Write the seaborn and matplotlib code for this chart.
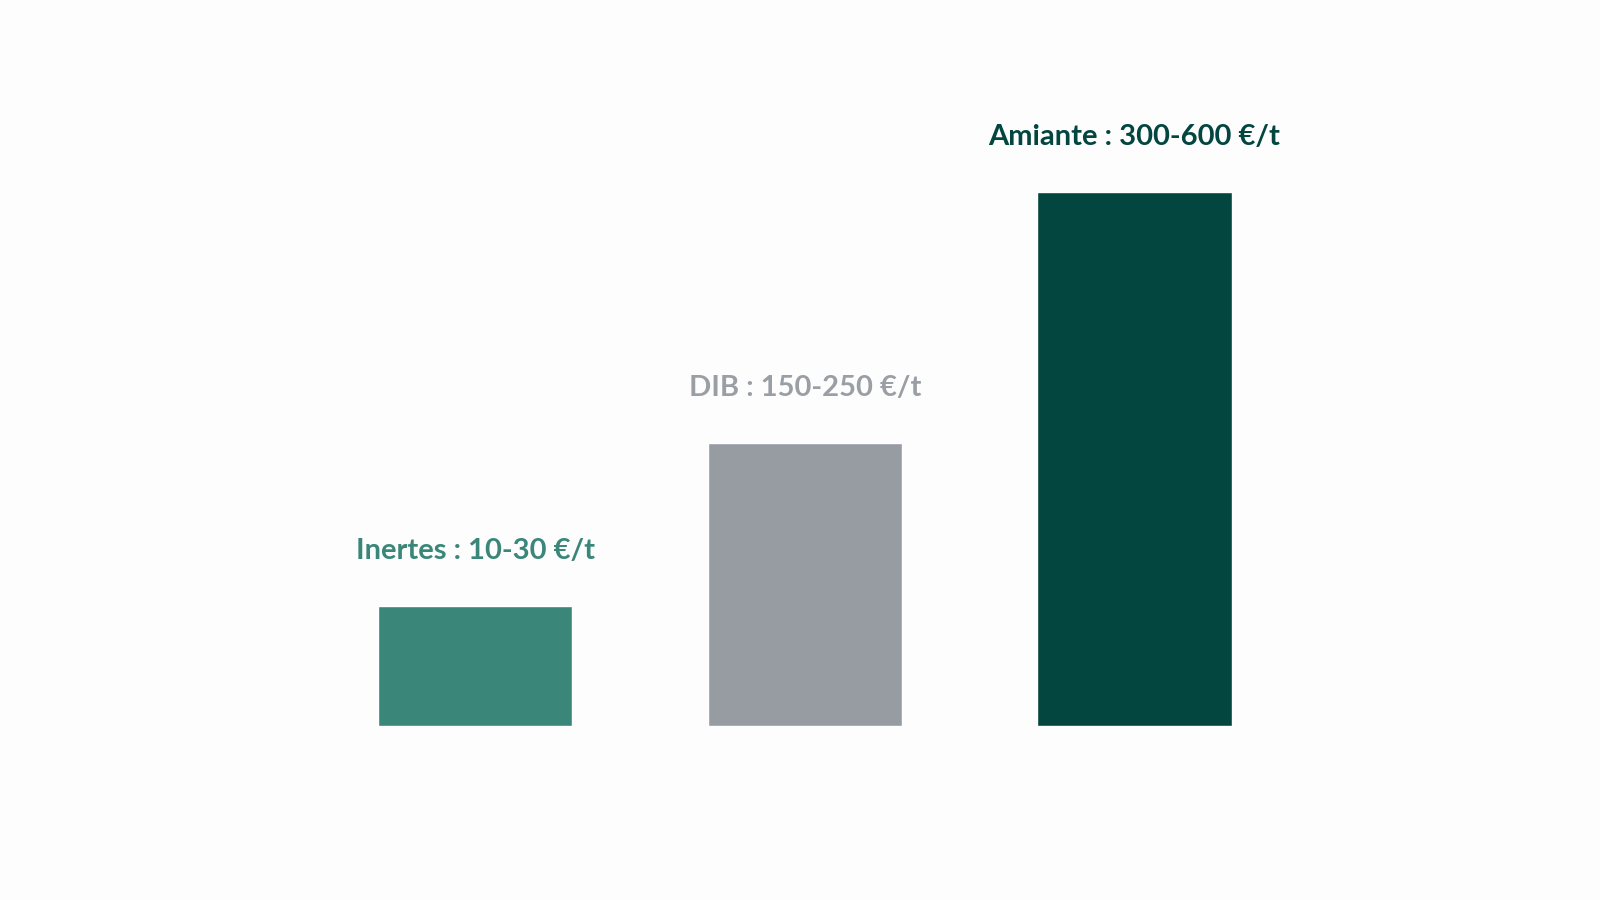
import matplotlib
matplotlib.use('Agg')
import matplotlib.pyplot as plt
import seaborn as sns
import pandas as pd

# Données (hauteurs relatives des barres)
categories = ['Inertes', 'DIB', 'Amiante']
hauteurs = [22.5, 53, 100]
etiquettes = ['Inertes : 10-30 €/t', 'DIB : 150-250 €/t', 'Amiante : 300-600 €/t']
couleurs = ['#3a877a', '#979ca3', '#02463f']
couleurs_texte = ['#3a877a', '#9a9fa6', '#02463f']

sns.set_style('white')
plt.rcParams['font.family'] = ['Lato', 'DejaVu Sans']

df = pd.DataFrame({'categorie': categories, 'hauteur': hauteurs})

fig = plt.figure(figsize=(16, 9), dpi=100)
fig.patch.set_facecolor('#fdfdfd')
ax = fig.add_axes([0.194, 0.193, 0.618, 0.653])
ax.set_facecolor('#fdfdfd')

sns.barplot(data=df, x='categorie', y='hauteur', hue='categorie',
            palette=couleurs, width=0.59, saturation=1, legend=False, ax=ax)

for i, (h, txt) in enumerate(zip(hauteurs, etiquettes)):
    ax.annotate(txt, (i, h), xytext=(0, 30), textcoords='offset points',
                ha='center', va='bottom', fontsize=21, fontweight='bold',
                color=couleurs_texte[i])

ax.set_xlim(-0.5, 2.5)
ax.set_ylim(0, 110)
ax.axis('off')

fig.savefig('out.png', facecolor=fig.get_facecolor())
